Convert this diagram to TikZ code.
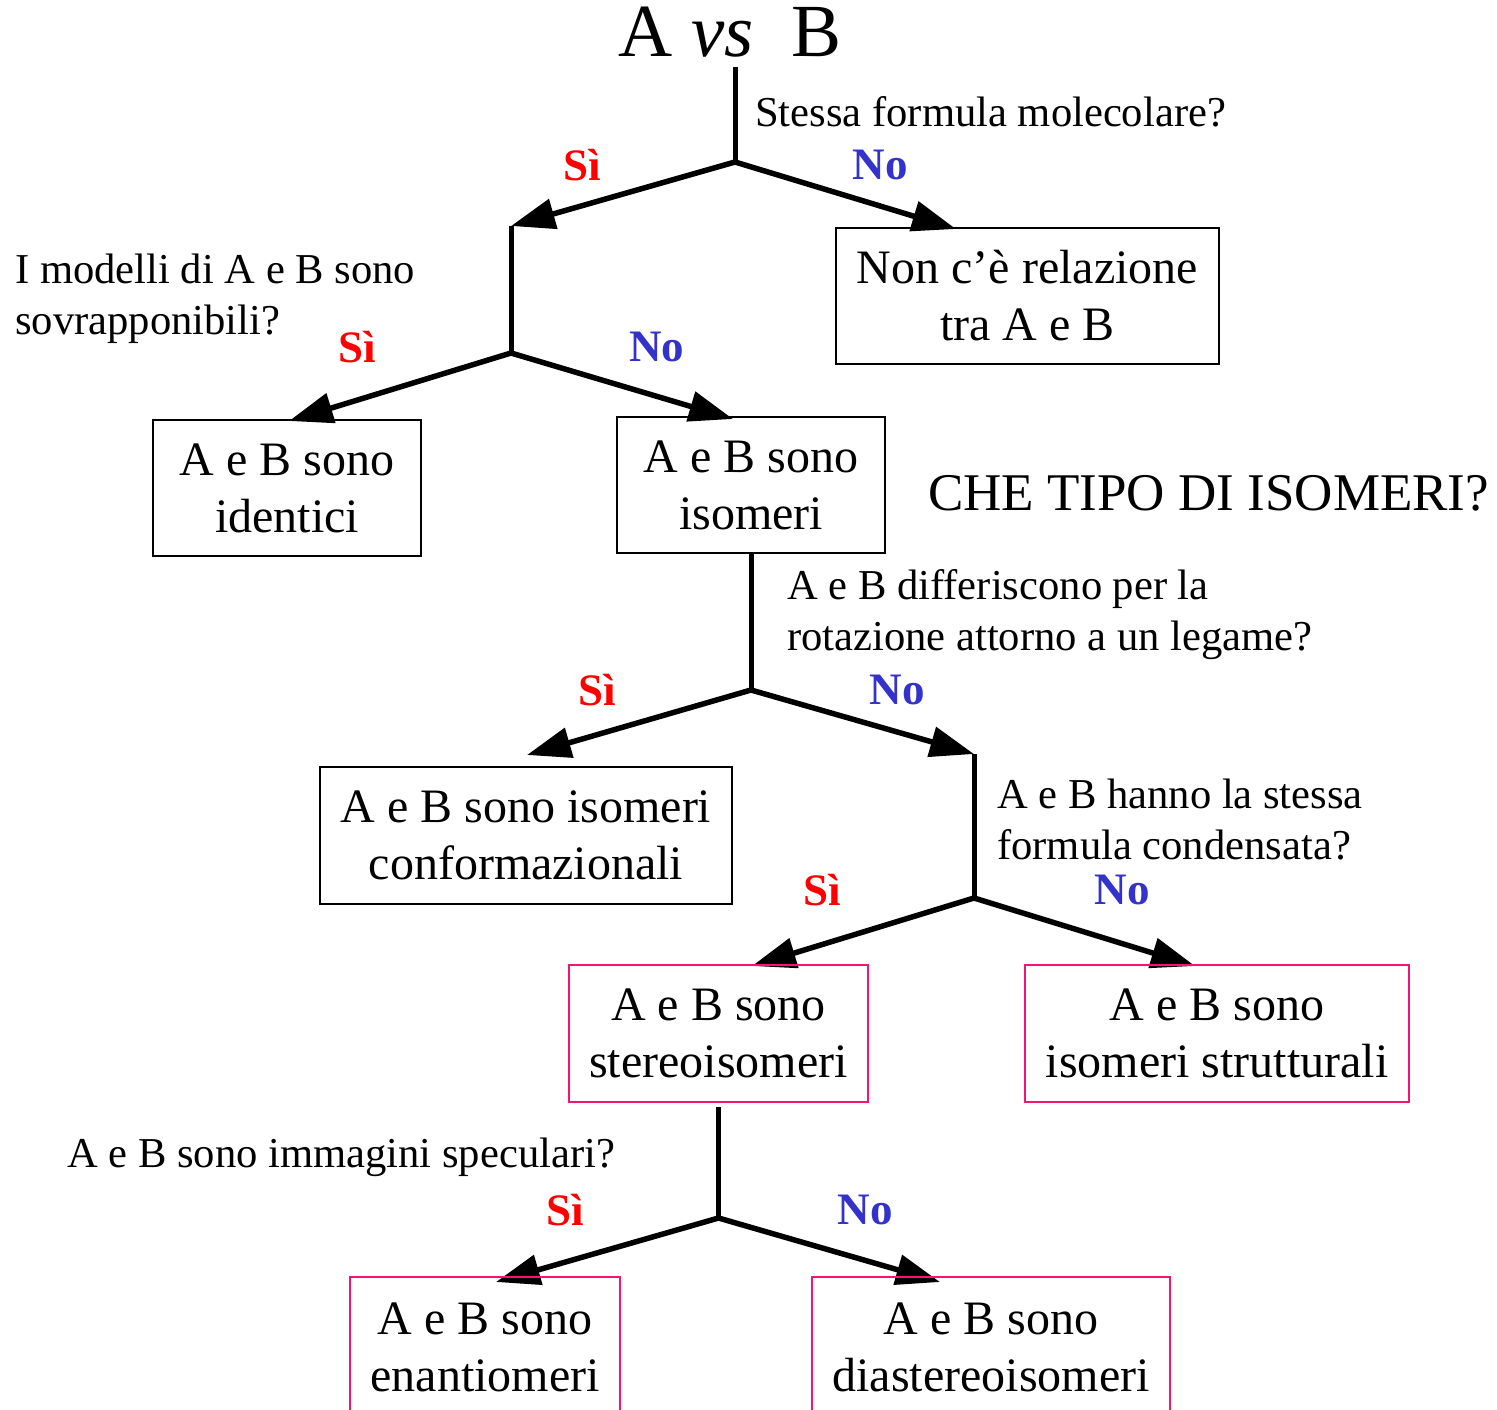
\documentclass[tikz,border=0pt]{standalone}
\usepackage{fontspec}
\setmainfont{Liberation Serif}
\usetikzlibrary{arrows.meta}
\definecolor{rosa}{RGB}{245,20,115}
\definecolor{rosso}{RGB}{255,0,0}
\definecolor{blu}{RGB}{51,51,204}

\begin{document}
\begin{tikzpicture}[x=1pt, y=-1pt,
    scatola/.style={draw, line width=2pt, align=center, inner sep=0pt,
        font=\fontsize{48}{57}\selectfont},
    scatolarosa/.style={scatola, draw=rosa},
    domanda/.style={anchor=north west, align=left, inner sep=0pt,
        font=\fontsize{42.6}{51}\selectfont},
    si/.style={text=rosso, font=\bfseries\fontsize{45}{50}\selectfont},
    no/.style={text=blu, font=\bfseries\fontsize{45}{50}\selectfont},
    freccia/.style={line width=5.5pt, -{Triangle[length=44pt, width=30pt]}},
    asta/.style={line width=5pt}]
    \useasboundingbox (0,0) rectangle (1497,1410);

    % titolo e prima domanda
    \node[anchor=base west, inner sep=0pt, font=\fontsize{75}{80}\selectfont]
        (titolo) at (618,57) {A \textit{vs}~~B};
    \node[domanda] (q1) at (755,96) {Stessa formula molecolare?};
    \coordinate (t0) at (735,67);
    \coordinate (b1) at (735,162);
    \coordinate (a1) at (511,226);
    \coordinate (p2) at (956,229);
    \draw[asta] (t0) -- (b1);
    \draw[freccia] (b1) -- (a1);
    \draw[freccia] (b1) -- (p2);
    \node[si] (si1) at (582,165) {Sì};
    \node[no] (no1) at (880,165) {No};
    \node[scatola, minimum width=383, minimum height=136]
        (nonrel) at (1027.5,296) {Non c’è relazione\\tra A e B};

    % sovrapponibili?
    \node[domanda] (q2) at (15,254) {I modelli di A e B sono\\sovrapponibili?};
    \coordinate (b2) at (511,353);
    \coordinate (p3) at (289,421);
    \coordinate (p4) at (733,419);
    \draw[asta] (a1) -- (b2);
    \draw[freccia] (b2) -- (p3);
    \draw[freccia] (b2) -- (p4);
    \node[si] (si2) at (357,347) {Sì};
    \node[no] (no2) at (657,347) {No};
    \node[scatola, minimum width=268, minimum height=136]
        (identici) at (287,488) {A e B sono\\identici};
    \node[scatola, minimum width=268, minimum height=136]
        (isomeri) at (751,485) {A e B sono\\isomeri};
    \node[anchor=base west, inner sep=0pt, font=\fontsize{53}{60}\selectfont]
        (tipo) at (928,510) {CHE TIPO DI ISOMERI?};

    % rotazione attorno a un legame?
    \node[domanda] (q3) at (787,569) {A e B differiscono per la\\rotazione attorno a un legame?};
    \coordinate (b3) at (751,690);
    \coordinate (p5) at (527,755);
    \coordinate (a2) at (974,754);
    \draw[asta] (isomeri.south) -- (b3);
    \draw[freccia] (b3) -- (p5);
    \draw[freccia] (b3) -- (a2);
    \node[si] (si3) at (597,690) {Sì};
    \node[no] (no3) at (897,690) {No};
    \node[scatola, minimum width=412, minimum height=137]
        (conform) at (526,835.5) {A e B sono isomeri\\conformazionali};

    % formula condensata?
    \node[domanda] (q4) at (997,779) {A e B hanno la stessa\\formula condensata?};
    \coordinate (b4) at (974,898);
    \coordinate (p6) at (752,966);
    \coordinate (p7) at (1195,966);
    \draw[asta] (a2) -- (b4);
    \draw[freccia] (b4) -- (p6);
    \draw[freccia] (b4) -- (p7);
    \node[si] (si4) at (822,890) {Sì};
    \node[no] (no4) at (1122,890) {No};
    \node[scatolarosa, minimum width=299, minimum height=137]
        (stereo) at (718.5,1033.5) {A e B sono\\stereoisomeri};
    \node[scatolarosa, minimum width=384, minimum height=137]
        (strutt) at (1217,1033.5) {A e B sono\\isomeri strutturali};

    % immagini speculari?
    \node[domanda] (q5) at (67,1138) {A e B sono immagini speculari?};
    \coordinate (b5) at (718.5,1218);
    \coordinate (p8) at (496,1282);
    \coordinate (p9) at (940,1282);
    \draw[asta, shorten <=4pt] (stereo.south) -- (b5);
    \draw[freccia] (b5) -- (p8);
    \draw[freccia] (b5) -- (p9);
    \node[si] (si5) at (565,1210) {Sì};
    \node[no] (no5) at (865,1210) {No};
    \node[scatolarosa, minimum width=270, minimum height=140]
        (enant) at (485,1347) {A e B sono\\enantiomeri};
    \node[scatolarosa, minimum width=358, minimum height=140]
        (diast) at (991,1347) {A e B sono\\diastereoisomeri};
\end{tikzpicture}
\end{document}
